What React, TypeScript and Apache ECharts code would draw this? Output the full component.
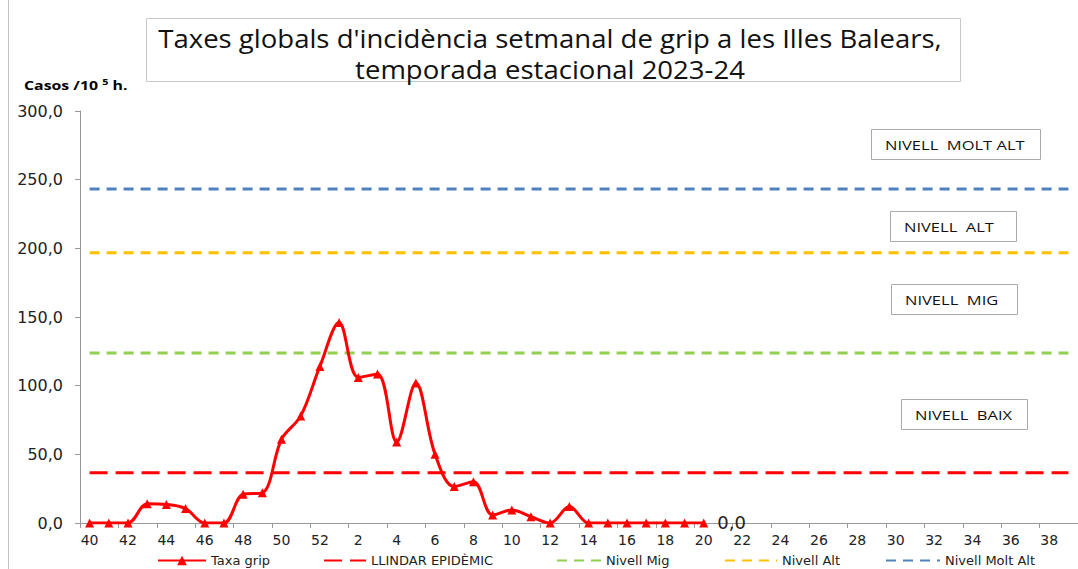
import React, { useEffect, useRef } from "react";
import * as echarts from "echarts";

const weeks: string[] = [
  "40","41","42","43","44","45","46","47","48","49","50","51","52",
  "1","2","3","4","5","6","7","8","9","10","11","12","13","14","15","16","17","18","19","20",
  "21","22","23","24","25","26","27","28","29","30","31","32","33","34","35","36","37","38","39",
];

const taxaGrip: (number | null)[] = [
  0, 0, 0, 14, 13.5, 10.5, 0, 0, 21, 22, 61, 78, 114,
  146, 106, 108.5, 59, 102, 50, 26.5, 30, 5.8, 9.5, 4.6, 0, 12, 0, 0, 0, 0, 0, 0, 0,
];

const llindarEpidemic = 36.6;
const nivellMig = 123.8;
const nivellAlt = 196.8;
const nivellMoltAlt = 243.2;

const yTicks = [0, 50, 100, 150, 200, 250, 300];

const titleLines = [
  "Taxes globals d'incidència setmanal de grip a les Illes Balears,",
  "temporada estacional 2023-24",
];

const levelBoxes = [
  { text: "NIVELL  MOLT ALT", x: 871, y: 129, w: 169, h: 30 },
  { text: "NIVELL  ALT", x: 890, y: 211, w: 126, h: 30 },
  { text: "NIVELL  MIG", x: 891, y: 284, w: 126, h: 30 },
  { text: "NIVELL  BAIX", x: 901, y: 399, w: 126, h: 30 },
];

const fmt = (v: number) => v.toFixed(1).replace(".", ",");

export default function App() {
  const ref = useRef<HTMLDivElement>(null);
  useEffect(() => {
    if (!ref.current) return;
    const chart = echarts.init(ref.current, null, { renderer: "svg" });
    const flat = (v: number) => weeks.map(() => v);
    const font = "Open Sans";
    const axisFont = "DejaVu Sans";
    const lastIdx = taxaGrip.length - 1;
    const gripData = taxaGrip.map((v, i) =>
      i === lastIdx
        ? {
            value: v,
            label: {
              show: true,
              position: "right",
              distance: 9,
              offset: [0, -1],
              formatter: (p: any) => fmt(p.value),
              fontSize: 18,
              lineHeight: 16,
              color: "#222",
              fontFamily: axisFont,
            },
          }
        : v
    );
    const legendBase = {
      bottom: 2,
      padding: 0,
      itemHeight: 12,
      itemGap: 5,
      textStyle: { fontSize: 13, color: "#222", fontFamily: axisFont },
    };
    const dashLegend = { ...legendBase, itemStyle: { opacity: 0 } };
    chart.setOption({
      animation: false,
      textStyle: { fontFamily: axisFont },
      grid: { left: 80, right: -2, top: 111, bottom: 46 },
      legend: [
        { ...legendBase, left: 157, itemWidth: 48, data: ["Taxa grip"] },
        { ...dashLegend, left: 323, itemWidth: 42, data: ["LLINDAR EPIDÈMIC"] },
        { ...dashLegend, left: 556, itemWidth: 44, data: ["Nivell Mig"] },
        { ...dashLegend, left: 724, itemWidth: 52, data: ["Nivell Alt"] },
        { ...dashLegend, left: 885, itemWidth: 54, data: ["Nivell Molt Alt"] },
      ],
      xAxis: {
        type: "category",
        data: weeks,
        boundaryGap: true,
        axisLine: { lineStyle: { color: "#999", width: 1 } },
        axisTick: { show: true, length: 5, lineStyle: { color: "#999" } },
        axisLabel: { interval: 1, fontSize: 14, color: "#222", margin: 10, fontFamily: axisFont },
      },
      yAxis: {
        type: "value",
        min: yTicks[0],
        max: yTicks[yTicks.length - 1],
        interval: 50,
        axisLine: { show: true, lineStyle: { color: "#999" } },
        axisTick: { show: true, length: 5, lineStyle: { color: "#999" } },
        splitLine: { show: false },
        axisLabel: { fontSize: 16, color: "#222", margin: 17, formatter: fmt, fontFamily: axisFont },
      },
      series: [
        {
          name: "Taxa grip",
          type: "line",
          data: gripData,
          smooth: 0.35,
          symbol: "triangle",
          symbolSize: 9,
          color: "#FF0000",
          lineStyle: { color: "#FF0000", width: 3 },
          itemStyle: { color: "#FF0000" },
          z: 5,
        },
        {
          name: "LLINDAR EPIDÈMIC",
          type: "line",
          data: flat(llindarEpidemic),
          symbol: "none",
          color: "#FF0000",
          lineStyle: { color: "#FF0000", width: 3, type: [18, 8] },
        },
        {
          name: "Nivell Mig",
          type: "line",
          data: flat(nivellMig),
          symbol: "none",
          color: "#92D050",
          lineStyle: { color: "#92D050", width: 3, type: [10, 7] },
        },
        {
          name: "Nivell Alt",
          type: "line",
          data: flat(nivellAlt),
          symbol: "none",
          color: "#FFC000",
          lineStyle: { color: "#FFC000", width: 3, type: [10, 7] },
        },
        {
          name: "Nivell Molt Alt",
          type: "line",
          data: flat(nivellMoltAlt),
          symbol: "none",
          color: "#4F81BD",
          lineStyle: { color: "#4F81BD", width: 3, type: [10, 7] },
        },
      ],
      graphic: [
        {
          type: "line",
          shape: { x1: 8.5, y1: 0, x2: 8.5, y2: 569 },
          style: { stroke: "#c0c0c0", lineWidth: 1 },
        },
        {
          type: "rect",
          shape: { x: 146.5, y: 18.5, width: 814, height: 63 },
          style: { fill: "#fff", stroke: "#c8c8c8", lineWidth: 1 },
        },
        ...titleLines.map((t, i) => ({
          type: "text",
          x: 550,
          y: 38 + i * 31,
          scaleX: 1.08,
          style: {
            text: t,
            fontSize: 25.5,
            lineHeight: 26,
            fontFamily: font,
            fill: "#111",
            textAlign: "center",
            textVerticalAlign: "middle",
          },
        })),
        {
          type: "text",
          x: 24,
          y: 85,
          scaleX: 1.27,
          style: {
            text: "{b|Casos /10 }{s|5}{b| h.}",
            rich: {
              b: { fontSize: 12.5, fontWeight: "bold", fontFamily: font, color: "#111" },
              s: { fontSize: 8.5, fontWeight: "bold", fontFamily: font, color: "#111", verticalAlign: "top", padding: [0, 0, 6, 0] },
            },
            textVerticalAlign: "middle",
          },
        },
        ...levelBoxes.flatMap((b) => [
          {
            type: "rect",
            shape: { x: b.x + 0.5, y: b.y + 0.5, width: b.w, height: b.h },
            style: { fill: "#fff", stroke: "#aaa", lineWidth: 1 },
            z: 10,
          },
          {
            type: "text",
            x: b.x + 14,
            y: b.y + b.h / 2 + 1,
            scaleX: 1.27,
            style: {
              text: b.text,
              fontSize: 13,
              fontFamily: font,
              fill: "#111",
              textVerticalAlign: "middle",
            },
            z: 11,
          },
        ]),
      ],
    });
    return () => chart.dispose();
  }, []);
  return (
    <div
      ref={ref}
      style={{ position: "absolute", left: 0, top: 0, width: 1078, height: 569, background: "#fff" }}
    />
  );
}
